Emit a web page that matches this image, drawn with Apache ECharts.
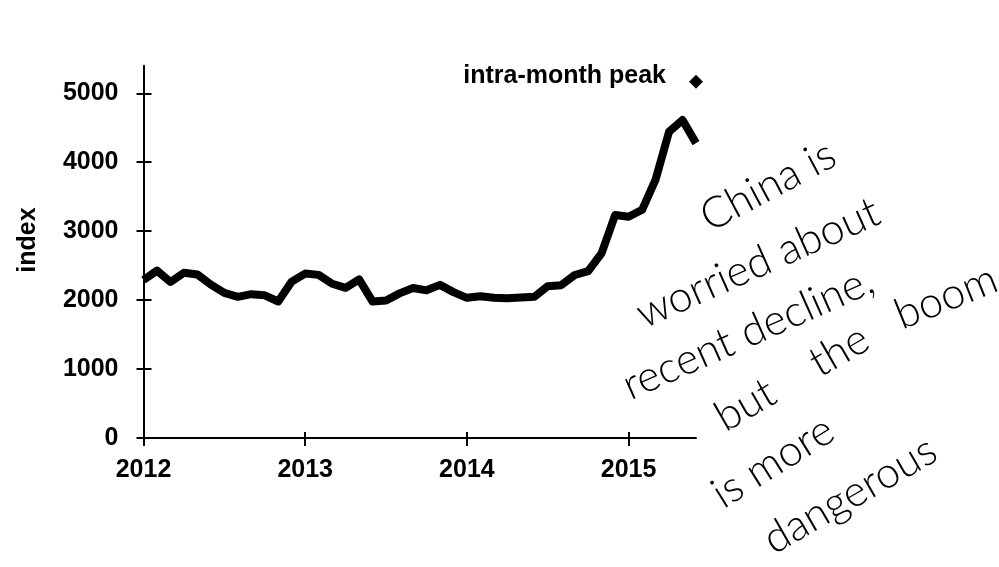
<!DOCTYPE html>
<html>
<head>
<meta charset="utf-8">
<script src="https://cdn.jsdelivr.net/npm/echarts@6/dist/echarts.min.js"></script>
<style>
html,body{margin:0;padding:0;background:#fff;}
#chart{width:999px;height:567px;}
</style>
</head>
<body>
<div id="chart"></div>
<script>
// ---- data ----
const yearLabels = ['2012', '2013', '2014', '2015'];
const yearTickMonths = [0, 12, 24, 36];
const yTickValues = [0, 1000, 2000, 3000, 4000, 5000];
// month-end index values, Jan 2012 .. Jun 2015
const indexValues = [
  2292, 2428, 2263, 2396, 2372, 2225, 2104, 2048, 2086, 2069, 1980, 2269,
  2385, 2366, 2237, 2178, 2301, 1979, 1994, 2098, 2175, 2142, 2221, 2116,
  2033, 2056, 2033, 2026, 2039, 2048, 2202, 2217, 2364, 2420, 2683, 3235,
  3210, 3310, 3748, 4442, 4612, 4277
];
const peakMonth = 41;
const peakValue = 5166;
const peakLabel = 'intra-month peak';
const yAxisTitle = 'index';
const noteLines = ['China is', 'worried about', 'recent decline,', 'boom', 'but    the', 'is more', 'dangerous'];

// ---- build ----
const lineData = indexValues.map((v, i) => [i, v]);
const axisFont = { fontFamily: '"Liberation Sans", Arial, sans-serif', fontWeight: 'bold', fontSize: 25, color: '#000' };
const hand = { fontFamily: 'Lato, "Open Sans", sans-serif', fontWeight: 300, fontSize: 43, fill: '#000' };
const deg = d => d * Math.PI / 180;
const notePlacement = [
  { x: 768, y: 186, r: 28 },
  { x: 758, y: 263, r: 24 },
  { x: 748, y: 333, r: 24 },
  { x: 946, y: 297, r: 22 },
  { x: 792, y: 378, r: 30 },
  { x: 773, y: 462, r: 32 },
  { x: 850, y: 495, r: 30 }
];

const chart = echarts.init(document.getElementById('chart'), null, { renderer: 'canvas' });
const yearByMonth = {};
yearTickMonths.forEach((m, i) => { yearByMonth[m] = yearLabels[i]; });

const option = {
  animation: false,
  backgroundColor: '#fff',
  grid: { left: 143.5, right: 303, top: 65.7, bottom: 129, containLabel: false },
  xAxis: [
    {
      type: 'value', min: 0, max: 41,
      axisLine: { show: true, onZero: false, lineStyle: { color: '#000', width: 2 } },
      axisTick: { show: true, length: 8, inside: false, customValues: yearTickMonths, lineStyle: { color: '#000', width: 2 } },
      axisLabel: Object.assign({ margin: 20, customValues: yearTickMonths, formatter: v => yearByMonth[v] || '' }, axisFont),
      splitLine: { show: false }
    },
    {
      type: 'value', min: 0, max: 41, position: 'bottom',
      axisLine: { show: false, onZero: false },
      axisTick: { show: true, length: 6, inside: true, customValues: yearTickMonths, lineStyle: { color: '#000', width: 2 } },
      axisLabel: { show: false },
      splitLine: { show: false }
    }
  ],
  yAxis: [
    {
      type: 'value', min: 0, max: 5400,
      axisLine: { show: true, onZero: false, lineStyle: { color: '#000', width: 2 } },
      axisTick: { show: true, length: 7, inside: false, customValues: yTickValues, lineStyle: { color: '#000', width: 2 } },
      axisLabel: Object.assign({ margin: 25, customValues: yTickValues, formatter: v => String(v) }, axisFont),
      splitLine: { show: false }
    },
    {
      type: 'value', min: 0, max: 5400, position: 'left',
      axisLine: { show: false, onZero: false },
      axisTick: { show: true, length: 8, inside: true, customValues: yTickValues, lineStyle: { color: '#000', width: 2 } },
      axisLabel: { show: false },
      splitLine: { show: false }
    }
  ],
  series: [
    {
      type: 'line', xAxisIndex: 0, yAxisIndex: 0,
      data: lineData, showSymbol: false, symbol: 'none',
      lineStyle: { color: '#000', width: 8, join: 'round', cap: 'butt' },
      z: 3
    },
    {
      type: 'scatter', xAxisIndex: 0, yAxisIndex: 0,
      data: [[peakMonth, peakValue]],
      symbol: 'diamond', symbolSize: 14,
      itemStyle: { color: '#000', opacity: 1 },
      label: Object.assign({ show: true, position: 'left', distance: 23, offset: [0, -6], formatter: peakLabel, opacity: 1 }, axisFont),
      emphasis: { disabled: true },
      clip: false, z: 4
    }
  ],
  graphic: [
    {
      type: 'text', x: 28, y: 240, rotation: deg(90),
      style: { text: yAxisTitle, font: 'bold 25px "Liberation Sans", Arial, sans-serif', fill: '#000', textAlign: 'center', textVerticalAlign: 'middle' }
    }
  ].concat(noteLines.map((t, i) => ({
    type: 'text', x: notePlacement[i].x, y: notePlacement[i].y, rotation: deg(notePlacement[i].r),
    style: { text: t, fontFamily: hand.fontFamily, fontWeight: hand.fontWeight, fontSize: hand.fontSize, fill: hand.fill, textAlign: 'center', textVerticalAlign: 'middle' }
  })))
};
chart.setOption(option);
</script>
</body>
</html>
